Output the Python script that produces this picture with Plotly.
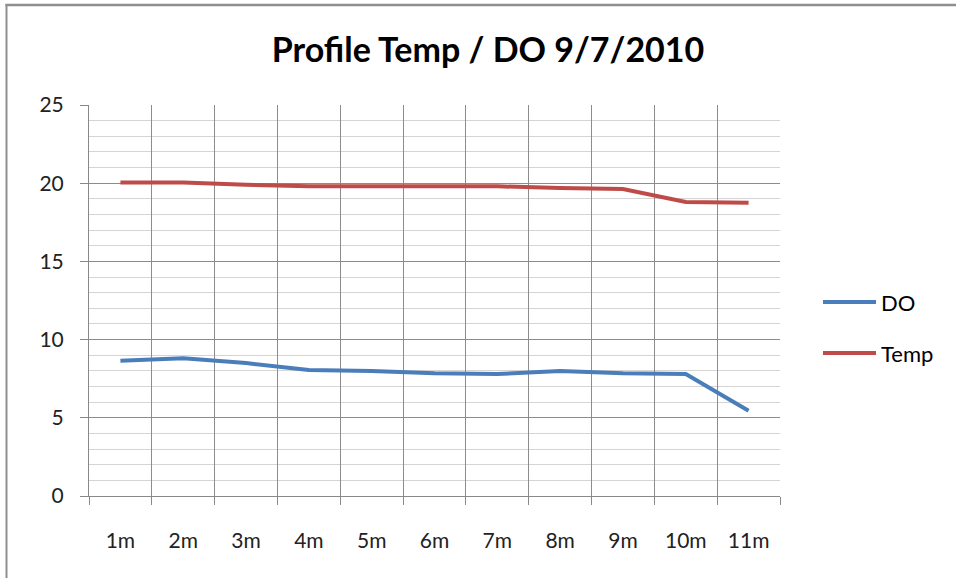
import plotly.graph_objects as go

categories = ["1m", "2m", "3m", "4m", "5m", "6m", "7m", "8m", "9m", "10m", "11m"]
do_values = [8.65, 8.8, 8.5, 8.05, 8.0, 7.85, 7.8, 8.0, 7.85, 7.8, 5.45]
temp_values = [20.05, 20.05, 19.9, 19.8, 19.8, 19.8, 19.8, 19.7, 19.63, 18.8, 18.75]
y_ticks = [0, 5, 10, 15, 20, 25]
series_names = ["DO", "Temp"]
series_colors = ["#4A7EBB", "#BE4B48"]

FONT = "Lato"
W, H = 956, 578
L, R, T, B = 89, 176, 105, 82
PW, PH = W - L - R, H - T - B


def px(x):
    return (x - L) / PW


def py(y):
    return (H - B - y) / PH


fig = go.Figure()
for name, vals, col in zip(series_names, [do_values, temp_values], series_colors):
    fig.add_trace(go.Scatter(x=categories, y=vals, mode="lines", name=name,
                             line=dict(color=col, width=4), showlegend=False))

shapes = [
    dict(type="line", xref="paper", yref="paper", x0=px(5.5), x1=px(956), y0=py(5), y1=py(5),
         line=dict(color="#8f8f8f", width=2.5)),
    dict(type="line", xref="paper", yref="paper", x0=px(6.5), x1=px(6.5), y0=py(578), y1=py(4),
         line=dict(color="#8f8f8f", width=2)),
]
annotations = []
for i, (name, col) in enumerate(zip(series_names, series_colors)):
    yy = [302, 353][i]
    shapes.append(dict(type="line", xref="paper", yref="paper", x0=px(823), x1=px(876),
                       y0=py(yy), y1=py(yy), line=dict(color=col, width=4)))
    annotations.append(dict(xref="paper", yref="paper", x=px(879), y=py(yy), text=name,
                            showarrow=False, xanchor="left", yanchor="middle",
                            font=dict(family=FONT, size=22, color="black")))

fig.update_layout(
    width=W, height=H,
    margin=dict(l=L, r=R, t=T, b=B),
    paper_bgcolor="white", plot_bgcolor="white",
    font=dict(family=FONT, size=21, color="#222"),
    title=dict(text="<b>Profile Temp / DO 9/7/2010</b>", x=488 / W, xanchor="center",
               y=1 - 50 / H, yanchor="middle", font=dict(family=FONT, size=34, color="black")),
    showlegend=False,
    shapes=shapes,
    annotations=annotations,
)

fig.update_xaxes(
    type="category", tickson="boundaries", ticks="outside", ticklen=8, tickcolor="#888",
    showgrid=True, gridcolor="#8c8c8c", gridwidth=1,
    showline=True, linecolor="#888", linewidth=1,
    ticklabelstandoff=26, tickfont=dict(family=FONT, size=21, color="#222"),
    range=[-0.5, 10.5], zeroline=False,
)
fig.update_yaxes(
    range=[0, 25], tickvals=y_ticks, ticks="outside", ticklen=8, tickcolor="#888",
    showgrid=True, gridcolor="#8c8c8c", gridwidth=1,
    minor=dict(dtick=1, showgrid=True, gridcolor="#d4d4d4", gridwidth=1, ticks=""),
    showline=True, linecolor="#888", linewidth=1, zeroline=False,
    ticklabelstandoff=12, tickfont=dict(family=FONT, size=21, color="#222"),
)

fig.write_html("out.html", config={"displayModeBar": False},
               post_script="document.body.style.margin='0';")
